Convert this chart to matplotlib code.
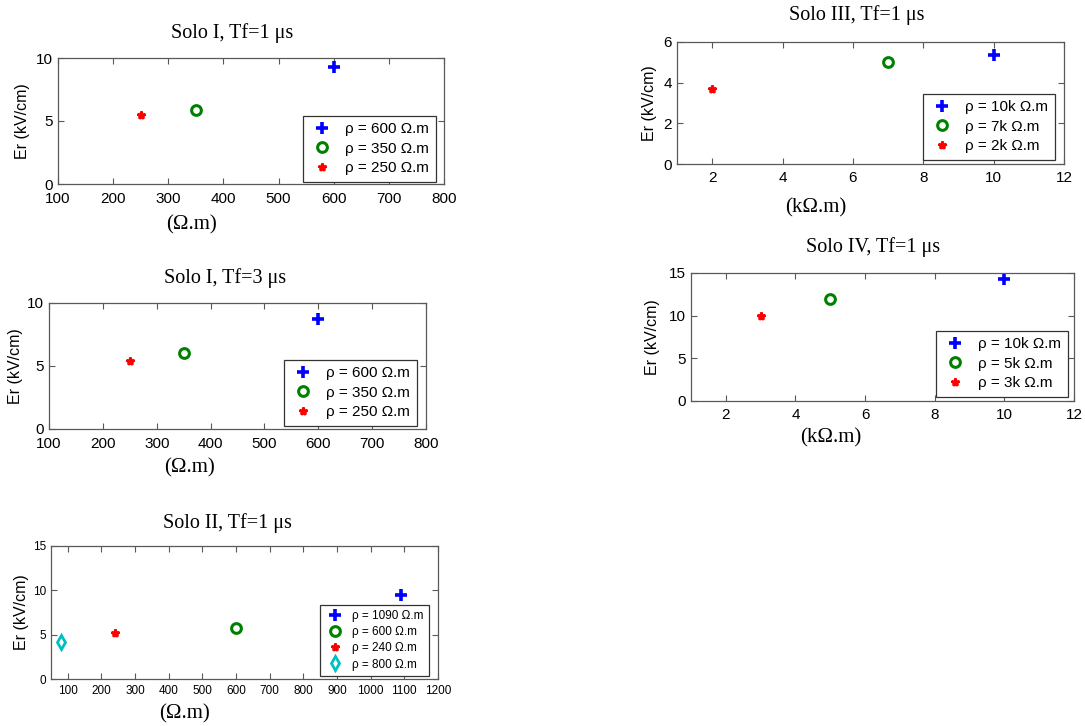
import matplotlib
matplotlib.use('Agg')
import matplotlib.pyplot as plt

plt.rcParams['font.family'] = ['Liberation Sans', 'DejaVu Sans']

# Solo I, Tf=1 us
s1a_x = [600, 350, 250]
s1a_y = [9.3, 5.9, 5.5]
s1a_labels = ['ρ = 600 Ω.m', 'ρ = 350 Ω.m', 'ρ = 250 Ω.m']

# Solo I, Tf=3 us
s1b_x = [600, 350, 250]
s1b_y = [8.75, 6.0, 5.4]
s1b_labels = ['ρ = 600 Ω.m', 'ρ = 350 Ω.m', 'ρ = 250 Ω.m']

# Solo II, Tf=1 us
s2_x = [1090, 600, 240, 80]
s2_y = [9.5, 5.8, 5.2, 4.2]
s2_labels = ['ρ = 1090 Ω.m', 'ρ = 600 Ω.m', 'ρ = 240 Ω.m', 'ρ = 800 Ω.m']

# Solo III, Tf=1 us (kOhm.m)
s3_x = [10, 7, 2]
s3_y = [5.35, 5.0, 3.7]
s3_labels = ['ρ = 10k Ω.m', 'ρ = 7k Ω.m', 'ρ = 2k Ω.m']

# Solo IV, Tf=1 us (kOhm.m)
s4_x = [10, 5, 3]
s4_y = [14.3, 12.0, 10.0]
s4_labels = ['ρ = 10k Ω.m', 'ρ = 5k Ω.m', 'ρ = 3k Ω.m']

# marker styles: + blue, o green, * red, diamond cyan
styles = [
    dict(marker='+', color='#0000ff', ms=8, mew=2.6),
    dict(marker='o', color='#008000', ms=7, mew=2.2, mfc='none'),
    dict(marker='*', color='#ff0000', ms=6, mew=1.8),
    dict(marker='d', color='#00bfbf', ms=7, mew=2.0, mfc='none'),
]

W, H = 1085, 726
fig = plt.figure(figsize=(W/100, H/100), dpi=100)
fig.patch.set_facecolor('white')

def make_ax(l, r, t, b):
    return fig.add_axes([l/W, (H-b)/H, (r-l)/W, (b-t)/H])

panels = [
    # data, box, xlim, xticks, ylim, yticks, title, title pos, xlabel, xlabel pos, ylabel x, legend anchor, font, xpad
    (s1a_x, s1a_y, s1a_labels, (58, 444, 58, 184), (100, 800), range(100, 801, 100), (0, 10), [0, 5, 10],
     'Solo I, Tf=1 μs', (0.451, 1.198), '(Ω.m)', (0.347, -0.325), -0.093, (0.979, 0.016), 11, 6),
    (s1b_x, s1b_y, s1b_labels, (49, 426, 303, 429), (100, 800), range(100, 801, 100), (0, 10), [0, 5, 10],
     'Solo I, Tf=3 μs', (0.467, 1.198), '(Ω.m)', (0.374, -0.31), -0.09, (0.976, 0.024), 11, 6),
    (s2_x, s2_y, s2_labels, (51, 438, 546, 679), (50, 1200), range(100, 1201, 100), (0, 15), [0, 5, 10, 15],
     'Solo II, Tf=1 μs', (0.457, 1.173), '(Ω.m)', (0.346, -0.263), -0.075, (0.977, 0.023), 8.5, 4),
    (s3_x, s3_y, s3_labels, (677, 1064, 42, 164), (1, 12), range(2, 13, 2), (0, 6), [0, 2, 4, 6],
     'Solo III, Tf=1 μs', (0.465, 1.221), '(kΩ.m)', (0.359, -0.36), -0.07, (0.977, 0.033), 11, 5),
    (s4_x, s4_y, s4_labels, (691, 1074, 273, 401), (1, 12), range(2, 13, 2), (0, 15), [0, 5, 10, 15],
     'Solo IV, Tf=1 μs', (0.475, 1.203), '(kΩ.m)', (0.366, -0.289), -0.10, (0.984, 0.031), 11, 5),
]

for (xs, ys, labels, box, xlim, xticks, ylim, yticks, title, tpos,
     xlab, xlpos, ylx, lanchor, fs, xpad) in panels:
    ax = make_ax(*box)
    for k in range(len(xs)):
        st = styles[k]
        ax.plot([xs[k]], [ys[k]], linestyle='none', label=labels[k], **st)
    ax.set_xlim(*xlim)
    ax.set_ylim(*ylim)
    ax.set_xticks(list(xticks))
    ax.set_yticks(yticks)
    ax.tick_params(direction='in', top=True, right=True, length=4, width=0.8,
                   color='0.35', labelsize=fs)
    ax.tick_params(axis='x', pad=xpad)
    for sp in ax.spines.values():
        sp.set_color('0.35')
        sp.set_linewidth(0.9)
    ax.set_title(title, x=tpos[0], y=tpos[1], va='center', pad=0,
                 family='Liberation Serif', fontsize=14.5)
    ax.set_xlabel(xlab, family='Liberation Serif', fontsize=15, va='center')
    ax.xaxis.set_label_coords(*xlpos)
    ax.set_ylabel('Er (kV/cm)', fontsize=11.5, va='center')
    ax.yaxis.set_label_coords(ylx, 0.5)
    leg = ax.legend(loc='lower right', bbox_to_anchor=lanchor, borderaxespad=0,
                    fancybox=False, framealpha=1, edgecolor='0.2', fontsize=fs,
                    numpoints=1, handlelength=1.6, handletextpad=0.7,
                    labelspacing=0.35, borderpad=0.45)
    leg.get_frame().set_linewidth(0.9)

fig.savefig('out.png', dpi=100)
